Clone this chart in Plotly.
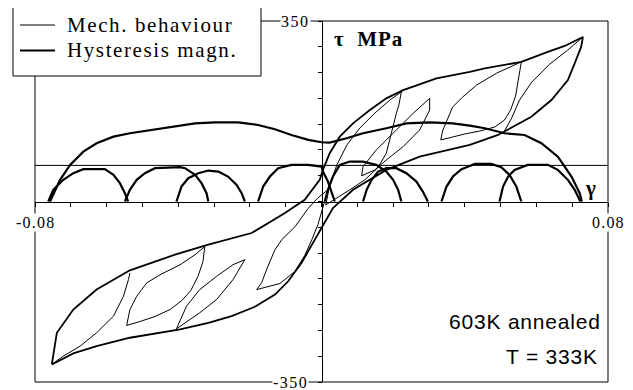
import plotly.graph_objects as go

# ---------------- data ----------------
# outer hysteresis loop: loading branch (from negative tip to positive tip)
outer_load_gamma = [-0.0753, -0.0693, -0.0628, -0.0535, -0.0395, -0.0316, -0.0251, -0.0186, -0.0130,
                    -0.0093, -0.0056, -0.0019, 0.0004, 0.0032, 0.0088, 0.0181, 0.0274, 0.0414, 0.0493,
                    0.0586, 0.0642, 0.0688, 0.0707, 0.0725, 0.0730]
outer_load_tau = [-316, -294.5, -280.4, -264.2, -248.1, -235.2, -222.4, -204.2, -180.4,
                  -154.7, -119.1, -74.1, -45.1, -12.8, 22.6, 61.3, 87, 109.7, 129,
                  164.4, 196.7, 235.4, 267.7, 299.8, 319]
# unloading branch (from positive tip back to negative tip)
outer_unload_gamma = [0.0730, 0.0679, 0.0632, 0.0558, 0.0456, 0.0414, 0.0321, 0.0228, 0.0181, 0.0135,
                      0.0088, 0.0051, 0.0023, 0.0004, -0.0005, -0.0047, -0.0102, -0.0195, -0.0316,
                      -0.0409, -0.0535, -0.0628, -0.0693, -0.0739, -0.0753]
outer_unload_tau = [319, 301.6, 290.1, 270.8, 258, 251.4, 238.7, 216, 200, 177.3,
                    151.6, 125.7, 93.6, 61.3, 42, 3.3, -22.4, -61.1, -83.7,
                    -103.1, -133.4, -170.8, -209.5, -254.5, -316]

# minor loops (separated by None)
minor_gamma = [
    -0.0753, -0.0721, -0.0674, -0.0628, -0.0581, -0.0553, -0.0539, -0.0535, None,
    -0.0544, -0.0535, -0.0516, -0.0488, -0.0451, -0.0395, -0.0353, -0.0326, -0.0331, -0.0345,
    -0.0365, -0.0390, -0.0423, -0.0465, -0.0507, -0.0544, None,
    -0.0405, -0.0377, -0.0340, -0.0293, -0.0247, -0.0214, -0.0247, -0.0293, -0.0340, -0.0405, None,
    -0.0181, -0.0167, -0.0150, -0.0130, -0.0111, -0.0074, -0.0038, -0.0010, 0.0018, 0.0006,
    -0.0010, -0.0027, -0.0047, -0.0075, -0.0116, -0.0181, None,
    0.0012, 0.0023, 0.0043, 0.0071, 0.0107, 0.0149, 0.0191, 0.0223, 0.0216, 0.0209, 0.0195,
    0.0181, 0.0157, 0.0121, 0.0079, 0.0040, 0.0012, None,
    0.0302, 0.0256, 0.0209, 0.0153, 0.0116, 0.0112, 0.0149, 0.0181, 0.0228, 0.0274, 0.0302, 0.0302, None,
    0.0558, 0.0550, 0.0542, 0.0528, 0.0511, 0.0484, 0.0442, 0.0400, 0.0364, 0.0333, 0.0338,
    0.0350, 0.0366, 0.0394, 0.0433, 0.0489, 0.0525, 0.0558, None,
    0.0730, 0.0687, 0.0637, 0.0587, 0.0553, 0.0531, 0.0511,
]
minor_tau = [
    -315.8, -299.8, -280.4, -254.5, -222.4, -183.7, -151.4, -138.5, None,
    -240.4, -209.5, -183.7, -157.8, -142.1, -122.8, -103.1, -87.6, -116.6, -145.6,
    -172.7, -192, -209.5, -223, -232.7, -240.4, None,
    -246.8, -203.1, -170.8, -145.1, -122.5, -112.8, -151.4, -190.1, -215.8, -246.8, None,
    -170.8, -157.2, -126.3, -93.5, -74.1, -48.9, -14.1, 7.2, 22.6, -6.4,
    -45, -74, -105, -136, -159, -170.8, None,
    -6.4, 32.3, 71, 109.7, 142.5, 171.5, 196.7, 212.7, 187, 171, 132.3,
    93.6, 65.2, 42, 22.6, 5.2, -6.4, None,
    200, 171, 138.7, 100, 67.7, 49.7, 61.3, 80.6, 106.4, 138.7, 177.3, 200, None,
    270.8, 239.2, 204.4, 177.3, 158, 144.5, 136.7, 130.9, 125.1, 119.3, 136.7,
    158, 183.1, 202.5, 225.7, 248.9, 260.5, 270.8, None,
    319, 293.3, 266.3, 231.5, 196.7, 161.9, 136.7,
]

# hysteresis magnitude of the big cycle
magn_big_gamma = [-0.0758, -0.0730, -0.0702, -0.0665, -0.0628, -0.0581, -0.0535, -0.0488, -0.0442,
                  -0.0395, -0.0353, -0.0298, -0.0233, -0.0177, -0.0130, -0.0084, -0.0037, 0.0000,
                  0.0023, 0.0070, 0.0116, 0.0181, 0.0237, 0.0302, 0.0367, 0.0414, 0.0456, 0.0511,
                  0.0567, 0.0614, 0.0660, 0.0698, 0.0721, 0.0727]
magn_big = [0, 42, 71, 96.7, 113, 125.7, 132.3, 137.3, 142,
            146.4, 151.6, 153.6, 153.6, 148.3, 140, 129, 119.4, 114.9,
            114.1, 122.6, 132.3, 142, 151.6, 153.6, 151.6, 147, 142, 132.3,
            129, 113, 87, 48.4, 16.2, 0]

# hysteresis magnitude of the minor cycles (separated by None)
magn_small_gamma = [
    -0.0763, -0.0749, -0.0721, -0.0693, -0.0665, -0.0605, -0.0581, -0.0563, -0.0549, -0.0540, None,
    -0.0549, -0.0535, -0.0516, -0.0493, -0.0465, -0.0395, -0.0381, -0.0353, -0.0335, -0.0321, -0.0316, None,
    -0.0405, -0.0391, -0.0372, -0.0344, -0.0316, -0.0288, -0.0261, -0.0237, -0.0223, -0.0214, None,
    -0.0177, -0.0163, -0.0144, -0.0121, -0.0084, -0.0037, 0.0000, 0.0004, 0.0018, 0.0028, 0.0037, None,
    0.0009, 0.0018, 0.0032, 0.0051, 0.0079, 0.0116, 0.0153, 0.0181, 0.0200, 0.0214, 0.0223, None,
    0.0116, 0.0126, 0.0140, 0.0158, 0.0181, 0.0209, 0.0237, 0.0265, 0.0283, 0.0297, None,
    0.0335, 0.0349, 0.0367, 0.0391, 0.0414, 0.0428, 0.0474, 0.0502, 0.0525, 0.0544, 0.0558, None,
    0.0497, 0.0507, 0.0521, 0.0539, 0.0576, 0.0632, 0.0660, 0.0688, 0.0707, 0.0723,
]
magn_small = [
    0, 22.6, 42, 55, 62.7, 62.7, 51.6, 35.6, 16.2, 0, None,
    0, 22.6, 42, 55, 64.6, 66.5, 64.6, 51.6, 35.6, 16.2, 0, None,
    0, 29, 45.1, 54.8, 60, 58, 48.4, 32.3, 16.2, 0, None,
    0, 29, 48.4, 64.6, 71, 71, 67.7, 58, 38.7, 19.3, 0, None,
    0, 22.6, 48.4, 71, 77.4, 77.4, 71, 58, 42, 22.6, 0, None,
    0, 22.6, 42, 58, 64.6, 64.6, 54.8, 38.7, 19.3, 0, None,
    0, 29, 48.4, 62.7, 69, 72.9, 72.9, 66.5, 51.6, 29, 0, None,
    0, 29, 48.4, 61.3, 71, 71, 61.3, 42, 22.6, 0,
]

magn_baseline = 70
gamma_range = [-0.08, 0.08]
tau_range = [-350, 350]
x_tick_labels = ["-0.08", "0.08"]
y_tick_labels = ["-350", "350"]
series_names = ["Mech. behaviour", "Hysteresis magn."]

# ---------------- figure ----------------
SERIF = "Liberation Serif, Times New Roman, serif"
SANS = "Liberation Sans, Arial, sans-serif"


def spaced(txt, px):
    return '<span style="letter-spacing:%spx">%s</span>' % (px, txt)


fig = go.Figure()

fig.add_trace(go.Scatter(
    x=minor_gamma, y=minor_tau, mode="lines", name=series_names[0], showlegend=False,
    line=dict(color="black", width=1), connectgaps=False, hoverinfo="skip"))
fig.add_trace(go.Scatter(
    x=outer_load_gamma + outer_unload_gamma, y=outer_load_tau + outer_unload_tau,
    mode="lines", name=series_names[0], showlegend=False,
    line=dict(color="black", width=1.8), hoverinfo="skip"))
fig.add_trace(go.Scatter(
    x=magn_big_gamma, y=magn_big, mode="lines", name=series_names[1], showlegend=False,
    line=dict(color="black", width=2.2), hoverinfo="skip"))
fig.add_trace(go.Scatter(
    x=magn_small_gamma, y=magn_small, mode="lines", name=series_names[1], showlegend=False,
    line=dict(color="black", width=2.2), connectgaps=False, hoverinfo="skip"))

axis_common = dict(anchor="free", position=0.5, showline=True, linecolor="black", linewidth=1,
                   ticks="outside", ticklen=4, tickcolor="black", tickwidth=1,
                   showticklabels=False, showgrid=False, zeroline=False)

# the page body adds an 8px offset; the figure is sized so that it fills the window exactly
fig.update_layout(
    width=625, height=382,
    margin=dict(l=27, r=25, t=13, b=8, autoexpand=False),
    paper_bgcolor="white", plot_bgcolor="white",
    xaxis=dict(range=gamma_range, dtick=0.01, tick0=0, **axis_common),
    yaxis=dict(range=tau_range, dtick=50, tick0=0, **axis_common),
    showlegend=False,
    hovermode=False,
)

# legend box (drawn by hand so that its size matches the original)
leg_x0, leg_x1, leg_y0, leg_y1 = -0.0384, 0.3944, 0.8476, 1.0499
row_y = [0.9889, 0.9183]
sample_x = [-0.0262, 0.0349]
shapes = [
    dict(type="rect", xref="paper", yref="paper", x0=0, x1=1, y0=0, y1=1,
         line=dict(color="black", width=1), layer="above"),
    dict(type="line", xref="paper", yref="y", x0=0, x1=1, y0=magn_baseline, y1=magn_baseline,
         line=dict(color="black", width=1), layer="above"),
    dict(type="rect", xref="paper", yref="paper", x0=leg_x0, x1=leg_x1, y0=leg_y0, y1=leg_y1,
         line=dict(color="black", width=1), fillcolor="white", layer="above"),
    dict(type="line", xref="paper", yref="paper", x0=sample_x[0], x1=sample_x[1], y0=row_y[0], y1=row_y[0],
         line=dict(color="black", width=1), layer="above"),
    dict(type="line", xref="paper", yref="paper", x0=sample_x[0], x1=sample_x[1], y0=row_y[1], y1=row_y[1],
         line=dict(color="black", width=2.2), layer="above"),
]
fig.update_layout(shapes=shapes)

lab_font = dict(family=SERIF, size=16, color="black")
ann = [
    dict(x=0.0524, y=row_y[0], xref="paper", yref="paper", text=spaced(series_names[0], 1.6),
         xanchor="left", yanchor="middle", font=dict(family=SERIF, size=21, color="black")),
    dict(x=0.0524, y=row_y[1], xref="paper", yref="paper", text=spaced(series_names[1], 1.6),
         xanchor="left", yanchor="middle", font=dict(family=SERIF, size=21, color="black")),
    dict(x=0, y=tau_range[1], text=spaced(y_tick_labels[1], 1.5), xanchor="right", yanchor="middle",
         xshift=-11, bgcolor="white", borderpad=0, font=lab_font),
    dict(x=0, y=tau_range[0], text=spaced(y_tick_labels[0], 1.5), xanchor="right", yanchor="middle",
         xshift=-13, bgcolor="white", borderpad=0, font=lab_font),
    dict(x=gamma_range[0], y=0, text=spaced(x_tick_labels[0], 1.2), xanchor="center", yanchor="middle",
         yshift=-21, bgcolor="white", borderpad=0, font=lab_font),
    dict(x=gamma_range[1], y=0, text=spaced(x_tick_labels[1], 1.2), xanchor="center", yanchor="middle",
         yshift=-21, bgcolor="white", borderpad=0, font=lab_font),
    dict(x=0.003, y=315, text=spaced("<b>τ  MPa</b>", 1.0), xanchor="left", yanchor="middle",
         font=dict(family=SERIF, size=21, color="black")),
    dict(x=0.0751, y=26, text="<b>γ</b>", xanchor="center", yanchor="middle",
         font=dict(family=SERIF, size=21, color="black")),
    dict(x=0.0786, y=-233, text=spaced("603K annealed", 0.8), xanchor="right", yanchor="middle",
         font=dict(family=SANS, size=21, color="black")),
    dict(x=0.0778, y=-301, text=spaced("T = 333K", 0.8), xanchor="right", yanchor="middle",
         font=dict(family=SANS, size=21, color="black")),
]
for a in ann:
    a.setdefault("xref", "x")
    a.setdefault("yref", "y")
    a["showarrow"] = False
fig.update_layout(annotations=ann)

fig.write_html("out.html")
